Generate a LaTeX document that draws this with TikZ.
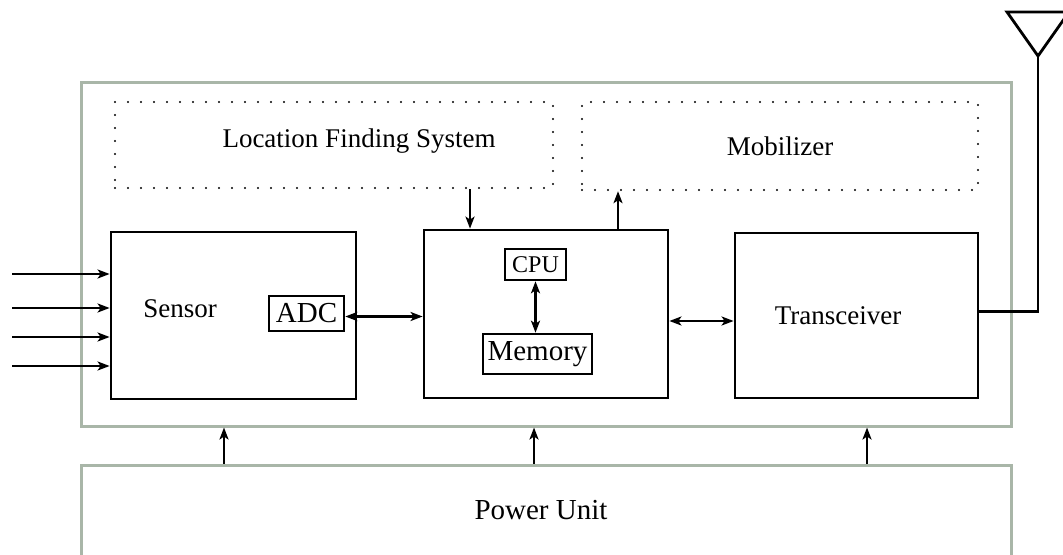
\documentclass[tikz,border=0pt]{standalone}
\usepackage{fontspec}
\setmainfont{Liberation Serif}
\usepackage{xcolor}
\usepackage{tikz}
\usetikzlibrary{arrows.meta, positioning}
\usetikzlibrary{calc}
\definecolor{framegray}{HTML}{A9B6A8}

\begin{document}
\begin{tikzpicture}[x=0.5pt, y=-0.5pt,
        every node/.style={
            align=center,
            inner sep=0pt,
            font=\fontsize{13.5}{16}\selectfont},
        block/.style={draw, line width=1.4pt},
        part/.style={draw, line width=1.3pt, font=\fontsize{14.5}{17}\selectfont},
        dotbox/.style={draw, line width=1.2pt, line cap=round, dash pattern=on 0pt off 6.5pt},
        graybox/.style={draw=framegray, line width=1.5pt},
        >={Stealth[length=6pt, width=4.5pt, inset=1.5pt]},
        line width=1.3pt]

        \clip (0,0) rectangle (1063,555);

        % frames
        \node[graybox, minimum width=465pt, minimum height=171.5pt] (node) at (546,254.5) {};
        \node[graybox, minimum width=465pt, minimum height=80pt, text depth=0pt] (power) at (546,545) {};
        \node (powertext) at (541,510) {\fontsize{14.5}{17}\selectfont Power Unit};

        \node[dotbox, minimum width=219pt, minimum height=43pt] (lfs) at (334,145) {};
        \node (lfstext) at (359,141) {Location Finding System};
        \node[dotbox, minimum width=198pt, minimum height=44pt] (mobil) at (780,146) {Mobilizer};

        % main blocks
        \node[block, minimum width=122.5pt, minimum height=83.5pt] (sensor) at (233.5,315.5) {};
        \node (sensortext) at (180,309) {Sensor};
        \node[part, minimum width=37.5pt, minimum height=17.5pt] (adc) at (306.5,313.5) {ADC};
        \node[block, minimum width=122pt, minimum height=84pt] (proc) at (546,314) {};
        \node[part, minimum width=30.5pt, minimum height=15.5pt, font=\fontsize{12}{14}\selectfont] (cpu) at (535.5,264.5) {CPU};
        \node[part, minimum width=54.5pt, minimum height=20pt] (memory) at (537.5,354) {Memory};
        \node[block, minimum width=121.5pt, minimum height=82.5pt] (trans) at (856.5,315.5) {};
        \node (transtext) at (838,316) {Transceiver};

        % sensor inputs
        \foreach \y [count=\i] in {274,308,337,366} {
            \coordinate (in\i) at (12,\y);
            \draw[->] (in\i) -- (in\i -| sensor.west);
        }

        % links
        \draw[<->] ([yshift=-1.5pt]adc.east) -- ([yshift=-1.5pt]adc.east -| proc.west);
        \draw[<->] ([yshift=-3.5pt]proc.east) -- ([yshift=-3.5pt]proc.east -| trans.west);
        \draw[<->] (cpu.south) -- (cpu.south |- memory.north);
        \draw[->] ([xshift=-38pt]proc.north |- lfs.south) -- ([xshift=-38pt]proc.north);
        \draw[->] ([xshift=36pt]proc.north) -- ([xshift=36pt]proc.north |- mobil.south);

        % power lines
        \foreach \dx in {-161,-6,160.5}
            \draw[->] ([xshift=\dx pt]power.north) -- ([xshift=\dx pt]power.north |- node.south);

        % antenna
        \coordinate (ant) at (1038,56);
        \draw[line join=miter, line width=1.4pt] (ant) -- ++(-31,-44) -- ++(62,0) -- cycle;
        \draw[line width=1.4pt] (ant) |- ([yshift=2pt]trans.east);
    \end{tikzpicture}
\end{document}
